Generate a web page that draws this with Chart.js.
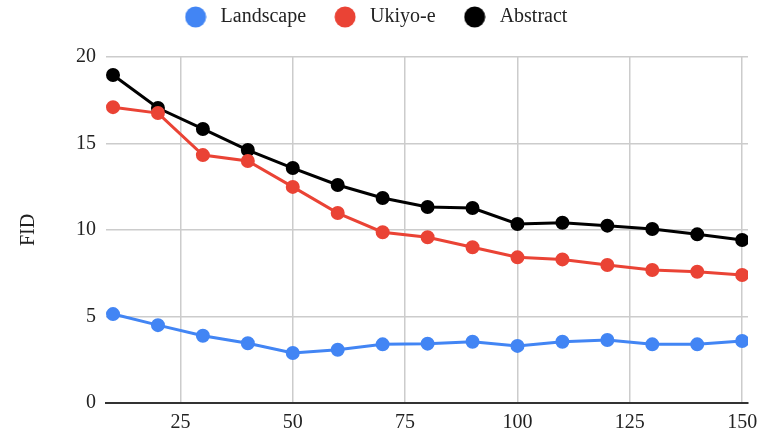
<!DOCTYPE html>
<html>
<head>
<meta charset="utf-8">
<script src="https://cdn.jsdelivr.net/npm/chart.js@4"></script>
<style>
  html, body { margin: 0; padding: 0; background: #fff; }
  #wrap { width: 757px; height: 437px; }
</style>
</head>
<body>
<div id="wrap"><canvas id="fid-chart"></canvas></div>
<script>
const steps = [10, 20, 30, 40, 50, 60, 70, 80, 90, 100, 110, 120, 130, 140, 150]
const landscape = [5.14, 4.5, 3.89, 3.45, 2.89, 3.08, 3.39, 3.43, 3.54, 3.30, 3.54, 3.64, 3.39, 3.39, 3.58]
const ukiyoe = [17.1, 16.76, 14.33, 13.99, 12.49, 10.98, 9.87, 9.58, 9.0, 8.42, 8.3, 7.98, 7.69, 7.59, 7.4]
const abstract = [18.96, 17.05, 15.84, 14.62, 13.58, 12.6, 11.85, 11.33, 11.27, 10.35, 10.42, 10.25, 10.06, 9.75, 9.42]
const xTicks = [25, 50, 75, 100, 125, 150]
const yTicks = [0, 5, 10, 15, 20]

const serif = "'Liberation Serif', 'Times New Roman', serif"

function series (label, values, color) {
  return {
    label: label,
    data: steps.map((x, i) => ({ x: x, y: values[i] })),
    borderColor: color,
    backgroundColor: color,
    pointBackgroundColor: color,
    pointBorderColor: color,
    borderWidth: 3,
    pointRadius: 5.5,
    pointHoverRadius: 5.5,
    tension: 0
  }
}

// round legend marker drawn on a small canvas
function dot (color) {
  const c = document.createElement('canvas')
  c.width = 22
  c.height = 22
  const g = c.getContext('2d')
  g.fillStyle = color
  g.beginPath()
  g.arc(11, 11, 10.5, 0, Math.PI * 2)
  g.fill()
  return c
}

// legend is taller than its items so the plot starts lower, like the original
const legendHeight = {
  id: 'legendHeight',
  afterInit (chart) {
    const fit = chart.legend.fit
    chart.legend.fit = function () {
      fit.call(this)
      this.height = 74
    }
  }
}

const ctx = document.getElementById('fid-chart').getContext('2d')
new Chart(ctx, {
  type: 'line',
  data: {
    datasets: [
      series('Landscape', landscape, '#4285F4'),
      series('Ukiyo-e', ukiyoe, '#EA4335'),
      series('Abstract', abstract, '#000000')
    ]
  },
  plugins: [legendHeight],
  options: {
    responsive: true,
    maintainAspectRatio: false,
    animation: false,
    layout: { padding: { top: -17, right: 9, left: 0, bottom: 0 } },
    plugins: {
      legend: {
        position: 'top',
        labels: {
          usePointStyle: true,
          pointStyleWidth: 30,
          boxHeight: 20,
          padding: 24,
          color: '#222',
          font: { family: serif, size: 20 },
          generateLabels: chart => {
            const items = Chart.defaults.plugins.legend.labels.generateLabels(chart)
            items.forEach(item => { item.pointStyle = dot(item.fillStyle) })
            return items
          }
        }
      },
      tooltip: { enabled: false }
    },
    scales: {
      x: {
        type: 'linear',
        min: 8.44,
        max: 151.3,
        afterBuildTicks: axis => { axis.ticks = xTicks.map(v => ({ value: v })) },
        afterFit: axis => {
          axis.height = 34
          axis.paddingLeft = 0
          axis.paddingRight = 0
        },
        grid: {
          color: '#cccccc',
          lineWidth: 1.5,
          drawTicks: false
        },
        border: { display: true, color: '#333333', width: 2 },
        ticks: {
          color: '#222',
          padding: 8,
          maxRotation: 0,
          font: { family: serif, size: 20 }
        }
      },
      y: {
        min: 0,
        max: 20,
        afterBuildTicks: axis => { axis.ticks = yTicks.map(v => ({ value: v })) },
        afterFit: axis => { axis.width = 106 },
        grid: {
          color: '#cccccc',
          lineWidth: 1.5,
          drawTicks: false
        },
        border: { display: false },
        title: {
          display: true,
          text: 'FID',
          color: '#222',
          font: { family: serif, size: 20 },
          padding: { top: 17, bottom: 0 }
        },
        ticks: {
          color: '#222',
          padding: 10,
          font: { family: serif, size: 20 }
        }
      }
    }
  }
})
</script>
</body>
</html>
